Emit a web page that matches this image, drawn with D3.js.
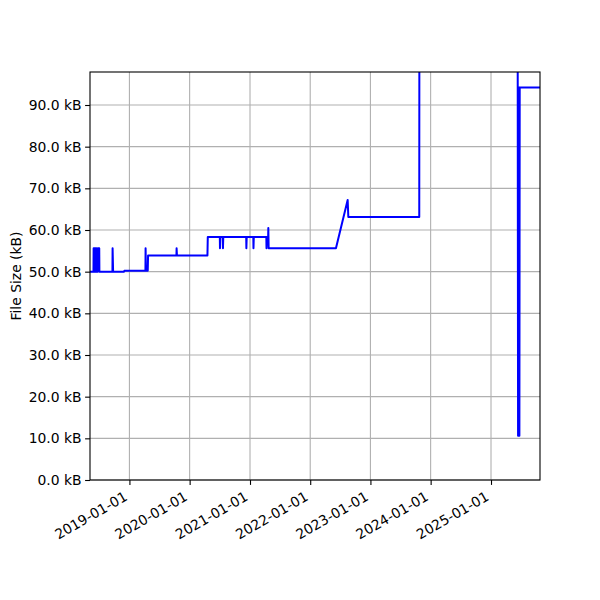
<!DOCTYPE html>
<html>
<head>
<meta charset="utf-8">
<script src="https://cdn.jsdelivr.net/npm/d3@7"></script>
<style>
  body { margin: 0; background: #fff; }
  text { font-family: "DejaVu Sans", sans-serif; }
</style>
</head>
<body>
<div id="chart"></div>
<script>
// commit dates and file size (kB)
const dates = [
  "2018-04-20", "2018-05-28", "2018-05-29", "2018-06-04", "2018-06-05",
  "2018-06-08", "2018-06-09", "2018-06-15", "2018-06-16", "2018-06-22",
  "2018-06-23", "2018-07-02", "2018-07-03", "2018-09-20", "2018-09-21",
  "2018-09-24", "2018-11-30", "2018-12-01", "2019-04-08", "2019-04-09",
  "2019-04-11", "2019-04-22", "2019-04-24", "2019-10-13", "2019-10-14",
  "2019-10-16", "2020-04-18", "2020-04-20", "2020-07-02", "2020-07-03",
  "2020-07-05", "2020-07-20", "2020-07-21", "2020-07-23", "2020-12-09",
  "2020-12-10", "2020-12-12", "2021-01-21", "2021-01-22", "2021-01-24",
  "2021-04-10", "2021-04-11", "2021-04-13", "2021-04-21", "2021-04-22",
  "2021-04-24", "2022-06-06", "2022-08-16", "2022-08-20", "2023-10-24",
  "2023-10-25", "2025-06-11", "2025-06-12", "2025-06-14", "2025-06-16",
  "2025-06-18", "2025-06-20", "2025-06-22", "2025-06-24", "2025-11-30"
]
const sizes = [
  50.0, 50.0, 55.6, 55.6, 50.0,
  50.0, 55.6, 55.6, 50.0, 50.0,
  55.6, 55.6, 50.0, 50.0, 55.6,
  50.0, 50.0, 50.2, 50.2, 55.6,
  50.2, 50.2, 53.9, 53.9, 55.6,
  53.9, 53.9, 58.3, 58.3, 55.6,
  58.3, 58.3, 55.6, 58.3, 58.3,
  55.6, 58.3, 58.3, 55.6, 58.3,
  58.3, 55.6, 58.3, 58.3, 60.5,
  55.6, 55.6, 67.2, 63.1, 63.1,
  125.0, 125.0, 94.2, 10.6, 94.2,
  10.6, 94.2, 10.6, 94.2, 94.2
]
const xDomain = ["2018-05-07", "2025-10-25"]
const yDomain = [0, 97.92]
const yTicks = [0, 10, 20, 30, 40, 50, 60, 70, 80, 90]
const xTicks = ["2019-01-01", "2020-01-01", "2021-01-01", "2022-01-01",
  "2023-01-01", "2024-01-01", "2025-01-01"]

const margin = {top: 72, right: 60, bottom: 120, left: 90},
    width = 600 - margin.left - margin.right,
    height = 600 - margin.top - margin.bottom

const parse = d3.utcParse("%Y-%m-%d")
const data = dates.map((d, i) => ({date: parse(d), size: sizes[i]}))

const svg = d3.select("#chart")
    .append("svg")
    .attr("width", 600)
    .attr("height", 600)

const g = svg.append("g")
    .attr("transform", "translate(" + margin.left + "," + margin.top + ")")

const x = d3.scaleUtc().domain(xDomain.map(parse)).range([0, width])
const y = d3.scaleLinear().domain(yDomain).range([height, 0])

// grid
g.append("g").selectAll("line").data(xTicks.map(parse)).join("line")
    .attr("x1", d => x(d)).attr("x2", d => x(d))
    .attr("y1", 0).attr("y2", height)
    .attr("stroke", "#b0b0b0").attr("stroke-width", 1.1)
g.append("g").selectAll("line").data(yTicks).join("line")
    .attr("x1", 0).attr("x2", width)
    .attr("y1", d => y(d)).attr("y2", d => y(d))
    .attr("stroke", "#b0b0b0").attr("stroke-width", 1.1)

svg.append("defs").append("clipPath").attr("id", "clip")
    .append("rect").attr("width", width).attr("height", height)

const line = d3.line()
    .x(d => x(d.date))
    .y(d => y(d.size))

g.append("path")
    .datum(data)
    .attr("clip-path", "url(#clip)")
    .attr("fill", "none")
    .attr("stroke", "#0000ff")
    .attr("stroke-width", 2)
    .attr("stroke-linejoin", "round")
    .attr("d", line)

// axes
const xAxis = g.append("g")
    .attr("transform", "translate(0," + height + ")")
    .call(d3.axisBottom(x).tickValues(xTicks.map(parse))
        .tickFormat(d3.utcFormat("%Y-%m-%d")).tickSize(4.9))
xAxis.select(".domain").remove()
xAxis.selectAll("line").attr("stroke", "#000").attr("stroke-width", 1.1)
// like autofmt_xdate: 30 degrees, right-aligned to the tick
xAxis.selectAll("text")
    .attr("font-size", "13.9px").attr("fill", "#000")
    .attr("text-anchor", "end")
    .attr("x", 0).attr("y", 0).attr("dy", 0)
    .attr("transform", "translate(-1.6,19.4) rotate(-30)")

const yAxis = g.append("g")
    .call(d3.axisLeft(y).tickValues(yTicks)
        .tickFormat(d => d.toFixed(1) + " kB").tickSize(4.9).tickPadding(3.5))
yAxis.select(".domain").remove()
yAxis.selectAll("line").attr("stroke", "#000").attr("stroke-width", 1.1)
yAxis.selectAll("text").attr("font-size", "13.9px").attr("fill", "#000")

g.append("rect")
    .attr("width", width).attr("height", height)
    .attr("fill", "none").attr("stroke", "#000").attr("stroke-width", 1.1)

svg.append("text")
    .attr("transform", "translate(21," + (margin.top + height / 2) + ") rotate(-90)")
    .attr("text-anchor", "middle")
    .attr("font-size", "13.9px")
    .text("File Size (kB)")
</script>
</body>
</html>
